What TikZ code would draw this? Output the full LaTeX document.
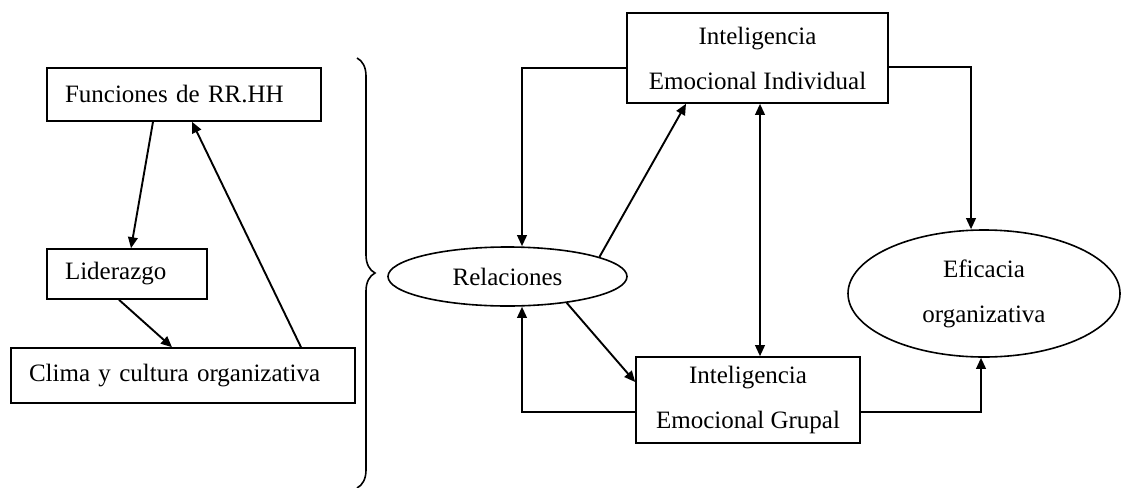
\documentclass[tikz,border=0pt]{standalone}
\usepackage{fontspec}
\setmainfont{Liberation Serif}
\usetikzlibrary{arrows.meta,shapes.geometric,decorations.pathreplacing}

\begin{document}
\begin{tikzpicture}[x=0.5pt,y=-0.5pt,
  caja/.style={draw,line width=0.8pt,inner sep=0pt,font=\fontsize{12.5}{22.5}\selectfont},
  cajaizq/.style={caja,align=left,inner xsep=9pt},
  elipse/.style={caja,ellipse,align=center},
  flecha/.style={line width=0.95pt,-{Triangle[length=5.5pt,width=4.8pt]}},
  flechas/.style={line width=0.95pt,{Triangle[length=5.5pt,width=4.8pt]}-{Triangle[length=5.5pt,width=4.8pt]}}]
\useasboundingbox (0,0) rectangle (1122,487);

% lado izquierdo
\node[cajaizq,text width=119pt,minimum height=26.5pt] (funciones) at (184,94.5) {Funciones de RR.HH};
\node[cajaizq,text width=62pt,minimum height=25pt] (liderazgo) at (127,274) {Liderazgo};
\node[cajaizq,text width=154pt,minimum height=27.5pt] (clima) at (183,375.5) {Clima y cultura organizativa};

\draw[flecha] ([xshift=-15.5pt]funciones.south) -- ([xshift=2pt]liderazgo.north);
\draw[flecha] ([xshift=-4pt]liderazgo.south) -- ([xshift=-5.5pt]clima.north);
\draw[flecha] ([xshift=59pt]clima.north) -- ([xshift=4pt]funciones.south);

\draw[line width=0.8pt,decorate,decoration={brace,amplitude=9pt}] (357,58) -- (357,488);

% lado derecho
\node[caja,align=center,minimum width=130.5pt,minimum height=45pt] (individual) at (757.5,58) {Inteligencia\\Emocional Individual};
\node[caja,align=center,minimum width=112pt,minimum height=43pt] (grupal) at (748,400) {Inteligencia\\Emocional Grupal};
\node[elipse,minimum width=119.5pt,minimum height=29.5pt] (relaciones) at (507.5,276.5) {Relaciones};
\node[elipse,minimum width=136pt,minimum height=63.5pt] (eficacia) at (984,293.5) {Eficacia\\organizativa};

\draw[flecha] (relaciones.12) -- ([xshift=-35.75pt]individual.south);
\draw[flecha] (relaciones.-24) -- ([yshift=9pt]grupal.west);
\draw[flecha] ([yshift=-5pt]individual.west) -| ([xshift=7.25pt]relaciones.north);
\draw[flecha] ([yshift=-6pt]grupal.west) -| ([xshift=7.25pt]relaciones.south);
\draw[flechas] ([xshift=1.25pt]individual.south) -- ([xshift=1.25pt]individual.south |- grupal.north);
\draw[flecha] ([yshift=-4.5pt]individual.east) -| ([xshift=-6.5pt]eficacia.north);
\draw[flecha] ([yshift=-6pt]grupal.east) -| ([xshift=-1.5pt]eficacia.south);
\end{tikzpicture}
\end{document}
